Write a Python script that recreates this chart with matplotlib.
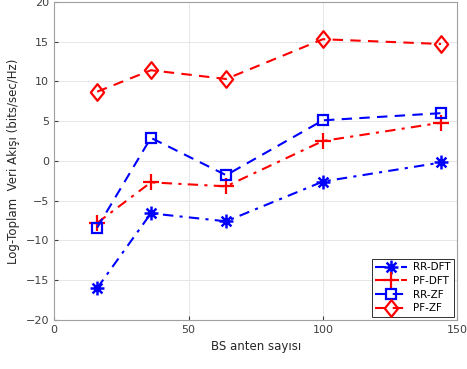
import numpy as np
import matplotlib
matplotlib.use('Agg')
import matplotlib.pyplot as plt
from matplotlib.path import Path

# Data
antennas = [16, 36, 64, 100, 144]
rr_dft = [-16.0, -6.6, -7.6, -2.6, -0.2]
pf_dft = [-7.8, -2.7, -3.2, 2.5, 4.8]
rr_zf = [-8.4, 2.9, -1.8, 5.1, 6.0]
pf_zf = [8.7, 11.4, 10.3, 15.3, 14.7]

plt.rcParams['font.family'] = 'DejaVu Sans'
plt.rcParams['font.size'] = 8

# matlab-like asterisk: four crossing strokes
d = 0.7071
star = Path([(-1, 0), (1, 0), (0, -1), (0, 1), (-d, -d), (d, d), (-d, d), (d, -d)],
            [Path.MOVETO, Path.LINETO] * 4)
# matlab-like diamond, a bit taller than wide
diamond = Path([(0, 1), (0.8, 0), (0, -1), (-0.8, 0), (0, 1)],
               [Path.MOVETO, Path.LINETO, Path.LINETO, Path.LINETO, Path.CLOSEPOLY])

fig = plt.figure(figsize=(4.67, 3.69), dpi=100)
ax = fig.add_axes([0.116, 0.133, 0.863, 0.862])

dashdot = (0, (5, 3, 1.5, 3))
dashed = (0, (5, 3.5))
ax.plot(antennas, rr_dft, color='blue', linestyle=dashdot, linewidth=1.5,
        marker=star, markersize=10, markeredgewidth=1.8, label='RR-DFT')
ax.plot(antennas, pf_dft, color='red', linestyle=dashdot, linewidth=1.5,
        marker='+', markersize=11, markeredgewidth=1.6, label='PF-DFT')
ax.plot(antennas, rr_zf, color='blue', linestyle=dashed, linewidth=1.5,
        marker='s', markersize=7, markerfacecolor='none', markeredgewidth=1.6, label='RR-ZF')
ax.plot(antennas, pf_zf, color='red', linestyle=dashed, linewidth=1.5,
        marker=diamond, markersize=12, markerfacecolor='none', markeredgewidth=1.6, label='PF-ZF')

ax.set_xlim(0, 150)
ax.set_ylim(-20, 20)
ax.set_xticks([0, 50, 100, 150])
ax.set_yticks(np.arange(-20, 21, 5))
ax.grid(True, color='#e6e6e6', linewidth=0.7)
ax.set_axisbelow(True)
for s in ax.spines.values():
    s.set_color('#a0a0a0')
ax.tick_params(direction='in', colors='#404040', length=3)

ax.set_xlabel('BS anten sayısı', color='#262626', fontsize=8.5)
ax.set_ylabel('Log-Toplam  Veri Akışı (bits/sec/Hz)', color='#262626', fontsize=8.5)

leg = ax.legend(loc='lower right', fontsize=7.5, fancybox=False, framealpha=1,
                edgecolor='#303030', handlelength=3, borderaxespad=0.3,
                labelspacing=0.35, borderpad=0.35, handletextpad=0.6)
leg.get_frame().set_linewidth(0.7)

fig.savefig('out.png', dpi=100)
